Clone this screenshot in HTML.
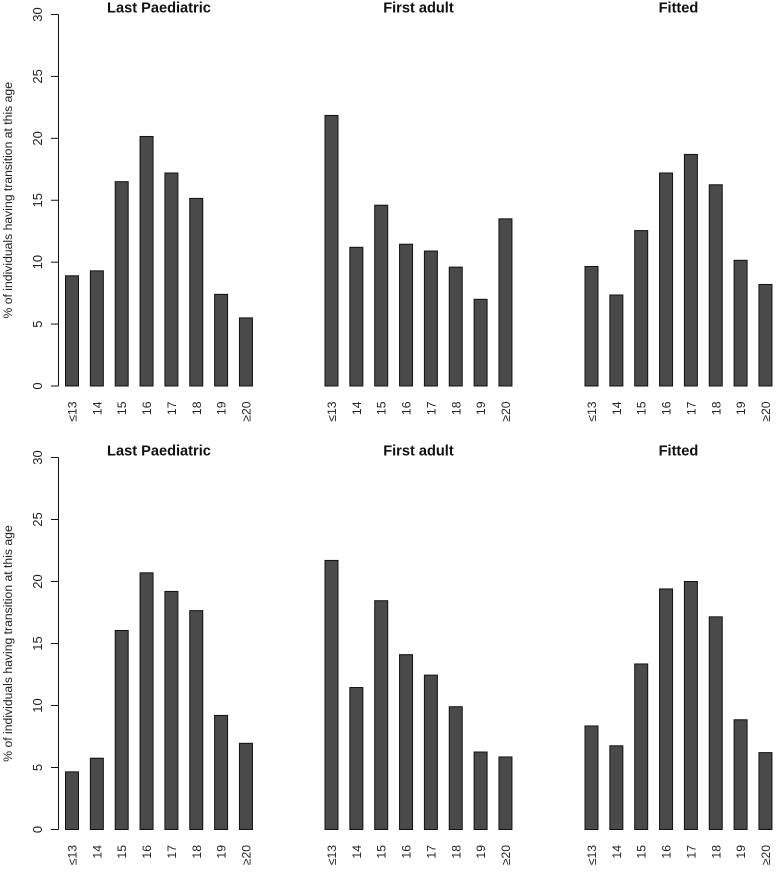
<!DOCTYPE html>
<html>
<head>
<meta charset="utf-8">
<title>Transition age bar charts</title>
<style>
html,body{margin:0;padding:0;background:#fff}
svg{display:block;font-family:"Liberation Sans",Arial,sans-serif}
</style>
</head>
<body>
<svg id="chart" width="779" height="872" viewBox="0 0 779 872" xmlns="http://www.w3.org/2000/svg"></svg>
<script>
const categories = ['≤13','14','15','16','17','18','19','≥20'];
const panelTitles = ['Last Paediatric','First adult','Fitted'];
const yTickLabels = [0,5,10,15,20,25,30];
const yAxisTitle = '% of individuals having transition at this age';
const topLastPaediatric = [8.9,9.3,16.5,20.15,17.2,15.15,7.4,5.5];
const topFirstAdult = [21.85,11.2,14.6,11.45,10.9,9.6,7.0,13.5];
const topFitted = [9.65,7.35,12.55,17.2,18.7,16.25,10.15,8.2];
const bottomLastPaediatric = [4.65,5.75,16.05,20.7,19.2,17.65,9.2,6.95];
const bottomFirstAdult = [21.7,11.45,18.45,14.1,12.45,9.9,6.25,5.85];
const bottomFitted = [8.35,6.75,13.35,19.4,20.0,17.15,8.85,6.2];

const NS = 'http://www.w3.org/2000/svg';
const svg = document.getElementById('chart');
const rows = [
  {name:'top', y0:386, y30:14.5, series:[topLastPaediatric, topFirstAdult, topFitted]},
  {name:'bottom', y0:829.5, y30:457.5, series:[bottomLastPaediatric, bottomFirstAdult, bottomFitted]}
];
const panelX0 = [72, 331.5, 591.5];
const barStep = 24.85;
const barW = 13;

function mk(tag, attrs, text, parent){
  const el = document.createElementNS(NS, tag);
  for (const k in attrs) el.setAttribute(k, attrs[k]);
  if (text !== undefined) el.textContent = text;
  (parent || svg).appendChild(el);
  return el;
}
function yScale(row, v){ return row.y0 - (v / 30) * (row.y0 - row.y30); }
function xScale(panel, i){ return panelX0[panel] + i * barStep; }

rows.forEach(function(row){
  const axis = mk('g', {});
  
  
  const axisLine = mk('line', {x1:58.5, x2:58.5, y1:yScale(row,30), y2:yScale(row,0), stroke:'#111', 'stroke-width':1}, undefined, axis);
  
  
  yTickLabels.forEach(function(t){
    const y = yScale(row, t);
    const tick = mk('line', {x1:51, x2:58.5, y1:y, y2:y, stroke:'#111', 'stroke-width':1}, undefined, axis);
    
    
    const lab = mk('text', {transform:'translate(42 ' + y + ') rotate(-90)', 'text-anchor':'middle', 'font-size':13, fill:'#222'}, String(t), axis);
    
    
  });
  const yTitle = mk('text', {transform:'translate(12 ' + ((row.y0 + row.y30) / 2) + ') rotate(-90)', 'text-anchor':'middle', 'font-size':12.2, fill:'#222'}, yAxisTitle);
  
  

  row.series.forEach(function(values, p){
    const g = mk('g', {});
    
    
    const cx = xScale(p, 3.5);
    const title = mk('text', {x:cx, y:row.y30 - 2.2, 'text-anchor':'middle', 'font-size':14.6, 'font-weight':'bold', fill:'#111'}, panelTitles[p], g);
    
    
    values.forEach(function(v, i){
      const x = xScale(p, i);
      const yv = yScale(row, v);
      const bar = mk('rect', {x:x - barW / 2, y:yv, width:barW, height:row.y0 - yv, fill:'#4a4a4a', stroke:'#111', 'stroke-width':1}, undefined, g);
      
      
      const lab = mk('text', {transform:'translate(' + (x + 4.5) + ' ' + (row.y0 + 15.5) + ') rotate(-90)', 'text-anchor':'end', 'font-size':12.2, fill:'#222'}, categories[i], g);
      
      
    });
  });
});
</script>
</body>
</html>
